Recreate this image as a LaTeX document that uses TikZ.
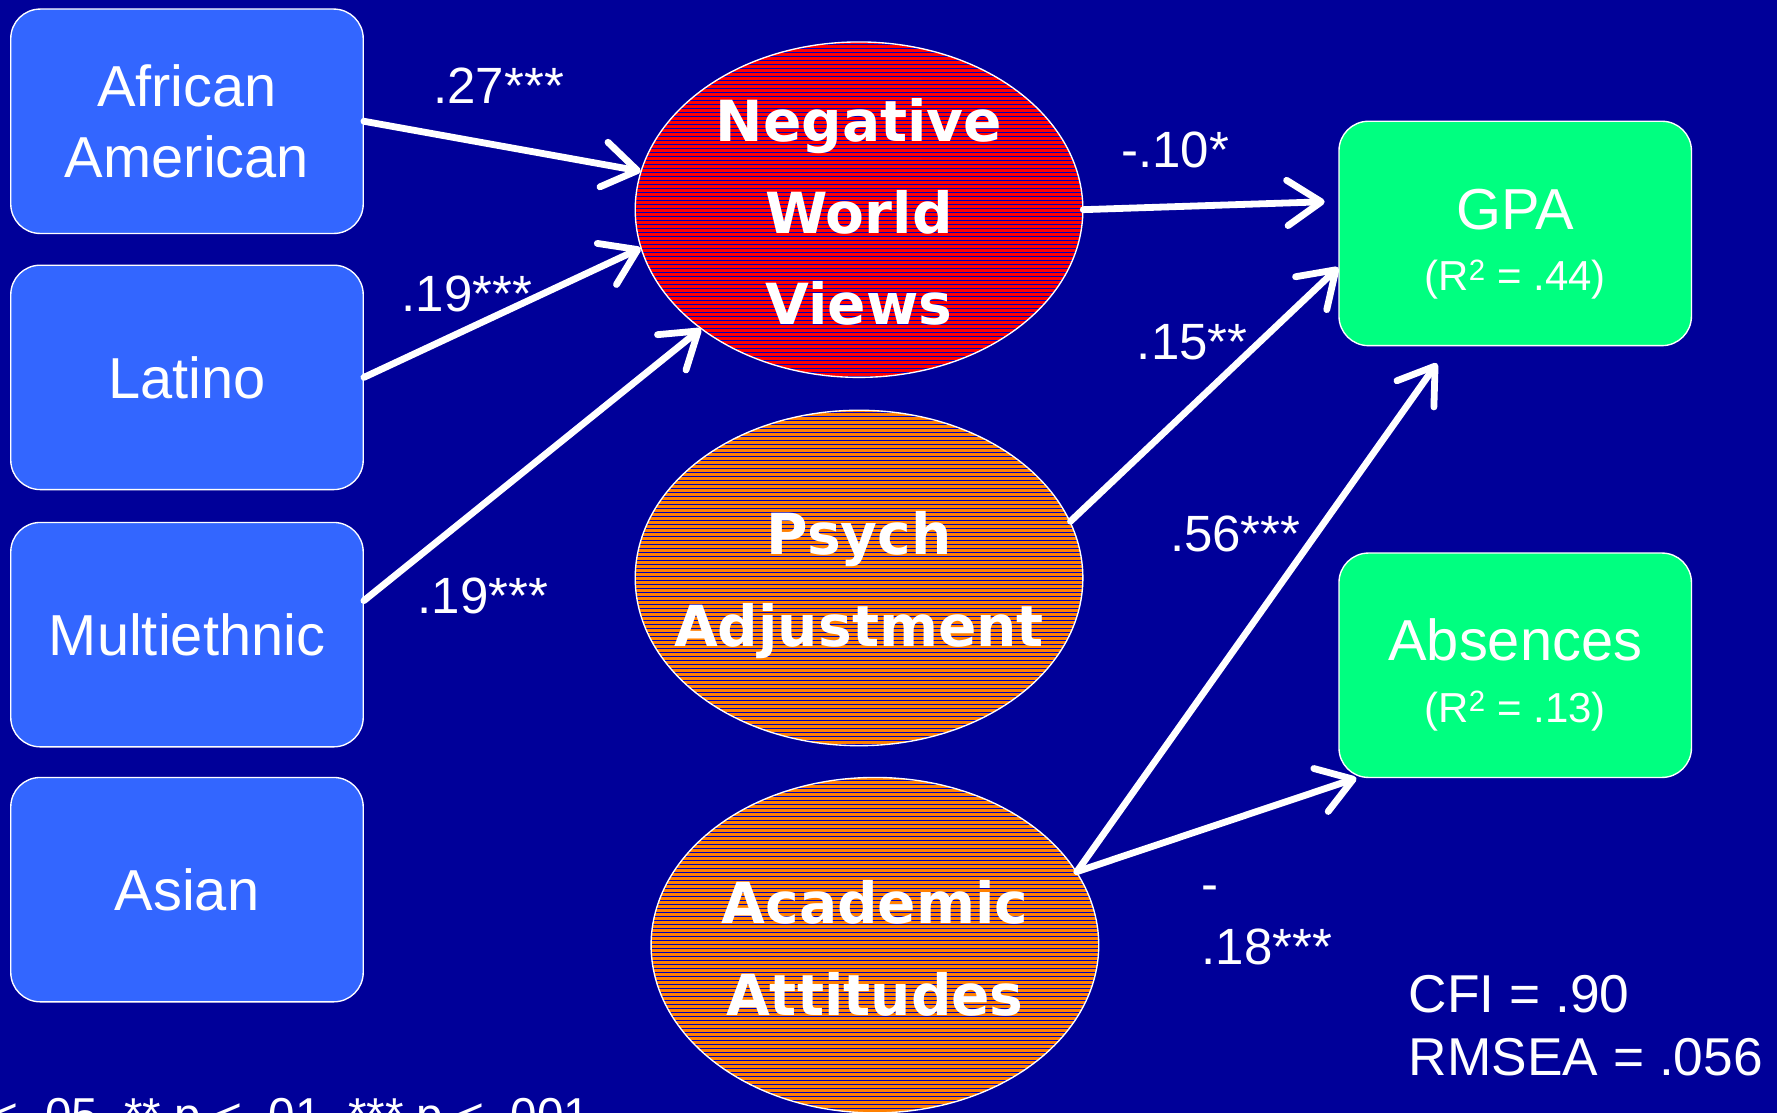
\documentclass[tikz,border=0pt]{standalone}
\usepackage{fontspec}
\setmainfont{Liberation Sans}
\newfontfamily\verdana{DejaVu Sans}
\usetikzlibrary{shapes.geometric}
\usetikzlibrary{arrows.meta}
\usetikzlibrary{patterns.meta}
\definecolor{bgblue}{RGB}{0,0,153}
\definecolor{boxblue}{RGB}{51,102,255}
\definecolor{outgreen}{RGB}{0,255,128}
\definecolor{nwvred}{RGB}{255,0,0}
\definecolor{adjorange}{RGB}{255,128,0}
\definecolor{stripeblue}{RGB}{0,0,190}

\begin{document}
\begin{tikzpicture}
[x=1pt, y=-1pt,
 every node/.style={inner sep=0pt, text=white},
 groupbox/.style={rectangle, rounded corners=26pt, minimum width=311pt, minimum height=198pt, fill=boxblue, draw=white, line width=1.2pt, align=center, font=\fontsize{51}{62}\selectfont},
 outcomebox/.style={groupbox, fill=outgreen, font=\fontsize{51}{54}\selectfont},
 latent/.style={ellipse, minimum width=395pt, minimum height=296pt, draw=white, line width=1.2pt, preaction={fill=#1}, pattern={Lines[angle=0, distance=3.53pt, line width=0.7pt]}, pattern color=stripeblue},
 latenttext/.style={align=center, font=\verdana\bfseries\fontsize{50}{81}\selectfont},
 pathlab/.style={font=\fontsize{45}{56}\selectfont},
 arrowpath/.style={draw=white, line width=6pt, line cap=round, -{Straight Barb[length=30pt, width=40pt, round]}}]
\useasboundingbox (0,0) rectangle (1568,982);
\clip (0,0) rectangle (1568,982);
\fill [bgblue] (0,0) rectangle (1568,982);
% groups
\node (aa) [groupbox] at (165, 107) {African\\American};
\node (latino) [groupbox] at (165, 333) {Latino};
\node (multi) [groupbox] at (165, 560) {Multiethnic};
\node (asian) [groupbox] at (165, 785) {Asian};
% mediators
\node (nwv) [latent=nwvred] at (758, 185) {};
\node (nwvtext) [latenttext] at ([yshift=-2pt]nwv) {Negative\\World\\Views};
\node (psych) [latent=adjorange] at (758, 510) {};
\node (psychtext) [latenttext] at ([yshift=-6pt]psych) {Psych\\Adjustment};
\node (acad) [latent=adjorange] at (772, 834) {};
\node (acadtext) [latenttext] at ([yshift=-3pt]acad) {Academic\\Attitudes};
% outcomes
\node (gpa) [outcomebox] at (1337, 206) {\rule{0pt}{54pt}GPA\\{\fontsize{37}{44}\selectfont (R\textsuperscript{2} = .44)}};
\node (absences) [outcomebox] at (1337, 587) {\rule{0pt}{54pt}Absences\\{\fontsize{37}{44}\selectfont (R\textsuperscript{2} = .13)}};
% paths
\draw [arrowpath] (aa.east) -- (nwv.170);
\draw [arrowpath] (latino.east) -- (nwv.190);
\draw [arrowpath] ([yshift=30pt]multi.east) -- (nwv.217);
\draw [arrowpath] (nwv.east) -- ([xshift=-12pt, yshift=28pt]gpa.west);
\draw [arrowpath] (psych.15) -- ([yshift=-30pt]gpa.west);
\draw [arrowpath] (acad.20) -- ([xshift=-69pt, yshift=-15pt]gpa.south);
\draw [arrowpath] (acad.20) -- ([xshift=16pt]absences.south west);
% coefficients
\node (lab27) [pathlab] at (440, 76) {.27***};
\node (lab19a) [pathlab] at (412, 259) {.19***};
\node (lab19b) [pathlab] at (426, 526) {.19***};
\node (lab10) [pathlab] at (1037, 132) {-.10*};
\node (lab15) [pathlab] at (1052, 302) {.15**};
\node (lab56) [pathlab] at (1090, 471) {.56***};
\node (lab18) [pathlab, align=left, anchor=south west] at (1060, 852) {-\\.18***};
% fit and note
\node (fit) [pathlab, font=\fontsize{47}{56}\selectfont, align=left, anchor=south west] at (1243, 950) {CFI = .90\\RMSEA = .056};
\node (note) [pathlab, font=\fontsize{42}{50}\selectfont, anchor=base east] at (521, 998) {* p < .05, ** p < .01, *** p < .001};
\end{tikzpicture}
\end{document}
